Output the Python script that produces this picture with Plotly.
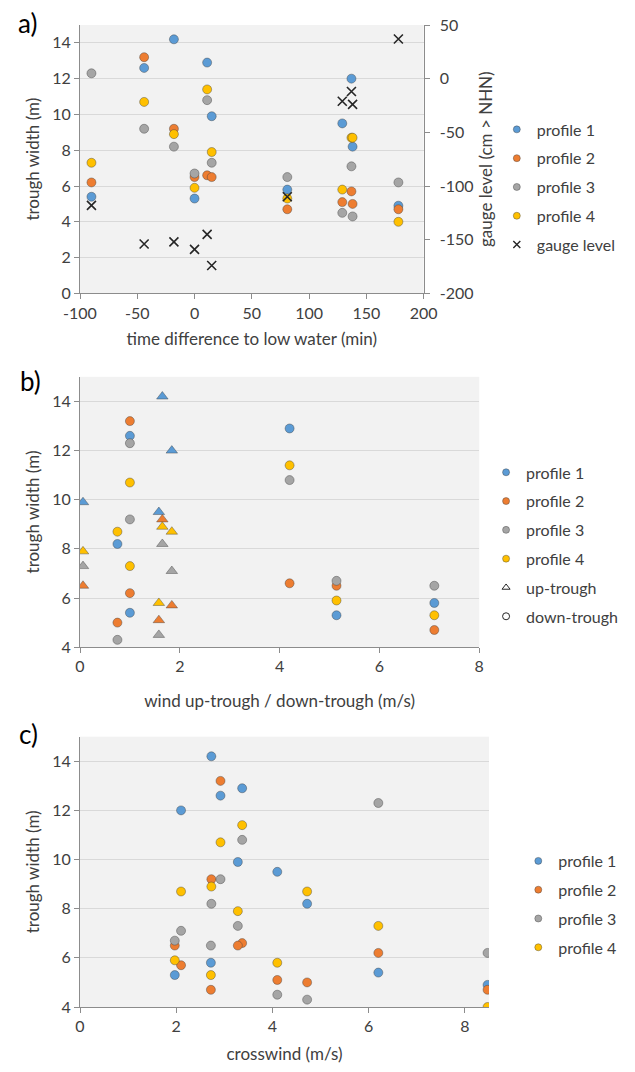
import plotly.graph_objects as go

# ---- data (11 measurements) ----
time_min = [-90, -44, -18, 0, 11, 15, 81, 129, 137, 138, 178]
gauge_cm = [-118, -154, -152, -159, -145, -174, -110, -21, -12, -24, 37]
wind_ms = [1.0, 1.0, 1.65, 5.14, 4.2, 0.06, 7.1, 1.58, 1.84, 0.75, None]
wind_dir = ["down", "down", "up", "down", "down", "up", "down", "up", "up", "down", None]
crosswind_ms = [6.2, 2.92, 2.73, 1.97, 3.37, 3.28, 2.72, 4.1, 2.1, 4.72, 8.47]

profile_names = ["profile 1", "profile 2", "profile 3", "profile 4"]
profile1 = [5.4, 12.6, 14.2, 5.3, 12.9, 9.9, 5.8, 9.5, 12.0, 8.2, 4.9]
profile2 = [6.2, 13.2, 9.2, 6.5, 6.6, 6.5, 4.7, 5.1, 5.7, 5.0, 4.7]
profile3 = [12.3, 9.2, 8.2, 6.7, 10.8, 7.3, 6.5, 4.5, 7.1, 4.3, 6.2]
profile4 = [7.3, 10.7, 8.9, 5.9, 11.4, 7.9, 5.3, 5.8, 8.7, 8.7, 4.0]
profiles = [profile1, profile2, profile3, profile4]

time_ticks = [-100, -50, 0, 50, 100, 150, 200]
time_ticktext = ["-100", "-50", "0", "50", "100", "150", "200"]
gauge_ticks = [-200, -150, -100, -50, 0, 50]
gauge_ticktext = ["-200", "-150", "-100", "-50", "0", "50"]

colors = ["#5B9BD5", "#ED7D31", "#A5A5A5", "#FFC000"]
outline = "rgba(60,60,60,0.55)"
TXT = "#404040"
AXC = "#8c8c8c"
GRID = "#d9d9d9"
TICKF = 16
TITLEF = 17
LEGF = 16

fig = go.Figure()

def legend_entry(name, legend, color, symbol="circle", lcolor=outline, lwidth=0.75, size=7):
    fig.add_trace(go.Scatter(
        x=[None], y=[None], mode="markers", name=name, legend=legend,
        legendgroup=legend + name,
        marker=dict(symbol=symbol, size=size, color=color, opacity=1,
                    line=dict(color=lcolor, width=lwidth)),
        xaxis="x", yaxis="y"))

# ---- panel a ----
for name, vals, c in zip(profile_names, profiles, colors):
    fig.add_trace(go.Scatter(
        x=time_min, y=vals, mode="markers", name=name, showlegend=False,
        marker=dict(size=9, color=c, opacity=1, line=dict(color=outline, width=0.75)),
        xaxis="x", yaxis="y"))
fig.add_trace(go.Scatter(
    x=time_min, y=gauge_cm, mode="markers", name="gauge level", showlegend=False,
    marker=dict(symbol="x-thin", size=9, color="#262626", line=dict(color="#262626", width=1.6)),
    xaxis="x", yaxis="y2"))
for name, c in zip(profile_names, colors):
    legend_entry(name, "legend", c)
legend_entry("gauge level", "legend", "#262626", symbol="x-thin", lcolor="#262626", lwidth=1.4, size=7)

# ---- panel b ----
for name, vals, c in zip(profile_names, profiles, colors):
    xs = [w for w in wind_ms if w is not None]
    ys = [v for v, w in zip(vals, wind_ms) if w is not None]
    sy = ["triangle-up" if d == "up" else "circle" for d in wind_dir if d is not None]
    sz = [10 if d == "up" else 9 for d in wind_dir if d is not None]
    fig.add_trace(go.Scatter(
        x=xs, y=ys, mode="markers", name=name, showlegend=False,
        marker=dict(symbol=sy, size=sz, color=c, opacity=1, line=dict(color=outline, width=0.75)),
        xaxis="x2", yaxis="y3"))
for name, c in zip(profile_names, colors):
    legend_entry(name, "legend2", c)
legend_entry("up-trough", "legend2", "#262626", symbol="triangle-up-open", lcolor="#262626", lwidth=1, size=7)
legend_entry("down-trough", "legend2", "#262626", symbol="circle-open", lcolor="#262626", lwidth=1, size=7)

# ---- panel c ----
for name, vals, c in zip(profile_names, profiles, colors):
    fig.add_trace(go.Scatter(
        x=crosswind_ms, y=vals, mode="markers", name=name, showlegend=False,
        marker=dict(size=9, color=c, opacity=1, line=dict(color=outline, width=0.75)),
        xaxis="x3", yaxis="y4"))
for name, c in zip(profile_names, colors):
    legend_entry(name, "legend3", c)

W, H = 635, 1072
ML, MR, MT, MB = 80, 136, 25, 59
PW, PH = W - ML - MR, H - MT - MB

def fx(px):
    return (px - ML) / PW

def fy(py):
    return (H - MB - py) / PH

common_x = dict(showgrid=False, zeroline=False, showline=True, linecolor=AXC, linewidth=1,
                ticks="outside", ticklen=5, tickcolor=AXC, tickfont=dict(size=TICKF, color=TXT),
                title_font=dict(size=TITLEF, color=TXT))
common_y = dict(showgrid=True, gridcolor=GRID, gridwidth=1, zeroline=False, showline=True,
                linecolor=AXC, linewidth=1, ticks="outside", ticklen=5, tickcolor=AXC,
                tickfont=dict(size=TICKF, color=TXT), title_font=dict(size=TITLEF, color=TXT))

legend_common = dict(font=dict(size=LEGF, color=TXT), bgcolor="rgba(0,0,0,0)",
                     tracegroupgap=5, traceorder="grouped", xanchor="left", yanchor="top")

fig.update_layout(
    width=W, height=H, margin=dict(l=ML, r=MR, t=MT, b=MB),
    paper_bgcolor="white", plot_bgcolor="#f2f2f2",
    font=dict(family="Lato", size=14, color=TXT),
    xaxis=dict(common_x, domain=[0, fx(432)], anchor="y", range=[-100, 200],
               tickvals=time_ticks, ticktext=time_ticktext,
               title=dict(text="time difference to low water (min)", standoff=12)),
    yaxis=dict(common_y, domain=[fy(295), fy(25)], anchor="x", range=[0, 15],
               tickvals=[0, 2, 4, 6, 8, 10, 12, 14],
               title=dict(text="trough width (m)", standoff=8)),
    yaxis2=dict(common_y, overlaying="y", side="right", anchor="x", range=[-200, 50],
                tickvals=gauge_ticks, ticktext=gauge_ticktext, ticklabelstandoff=7,
                showgrid=False, title=dict(text="gauge level (cm > NHN)", standoff=7)),
    xaxis2=dict(common_x, domain=[0, fx(489)], anchor="y3", range=[0, 8], dtick=2,
                title=dict(text="wind up-trough / down-trough (m/s)", standoff=20)),
    yaxis3=dict(common_y, domain=[fy(651), fy(379)], anchor="x2", range=[4, 15],
                tickvals=[4, 6, 8, 10, 12, 14], title=dict(text="trough width (m)", standoff=8)),
    xaxis3=dict(common_x, domain=[0, 1], anchor="y4", range=[0, 8.5], tickvals=[0, 2, 4, 6, 8],
                title=dict(text="crosswind (m/s)", standoff=13)),
    yaxis4=dict(common_y, domain=[fy(1013), fy(741)], anchor="x3", range=[4, 15],
                tickvals=[4, 6, 8, 10, 12, 14], title=dict(text="trough width (m)", standoff=8)),
    legend=dict(legend_common, x=fx(507), y=fy(113)),
    legend2=dict(legend_common, x=fx(496), y=fy(458)),
    legend3=dict(legend_common, x=fx(529), y=fy(849)),
    showlegend=True,
    annotations=[
        dict(text="a)", x=fx(26), y=fy(23), xref="paper", yref="paper", showarrow=False,
             font=dict(size=26, color="#000000"), xanchor="center", yanchor="middle"),
        dict(text="b)", x=fx(29), y=fy(383), xref="paper", yref="paper", showarrow=False,
             font=dict(size=26, color="#000000"), xanchor="center", yanchor="middle"),
        dict(text="c)", x=fx(27), y=fy(738), xref="paper", yref="paper", showarrow=False,
             font=dict(size=26, color="#000000"), xanchor="center", yanchor="middle"),
    ],
)

fig.write_html("out.html")
